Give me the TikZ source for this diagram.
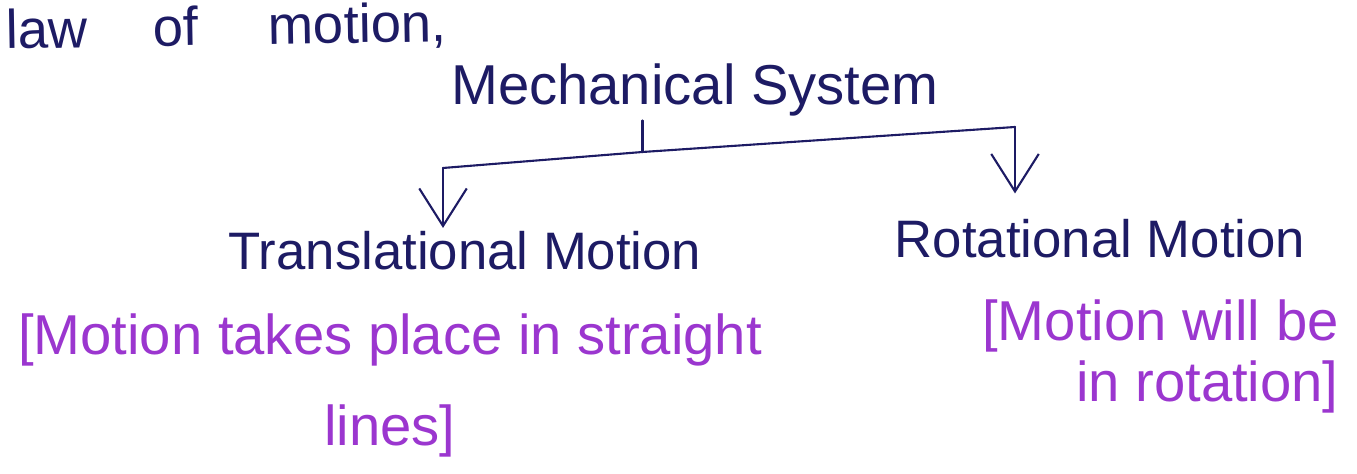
\documentclass[tikz,border=0pt]{standalone}
\usepackage{fontspec}
\setmainfont{Liberation Sans}
\definecolor{InkNavy}{HTML}{1D1B64}
\definecolor{InkPurple}{HTML}{9B36CF}
\usetikzlibrary{arrows.meta,positioning,calc}

\begin{document}
\begin{tikzpicture}[
    heading/.style={text=InkNavy,inner sep=2pt,font=\fontsize{30}{36}\selectfont},
    note/.style={text=InkPurple,inner sep=2pt,font=\fontsize{32}{52}\selectfont},
    branch/.style={draw=InkNavy,line width=1.2pt,line cap=round,line join=round},
    tip/.style={-{Straight Barb[length=0.75cm,width=0.95cm,line width=1.2pt]}}
  ]
  \useasboundingbox (0,0) rectangle (27.14,9.48);
  \clip (0,0) rectangle (27.14,9.48);

  \node[heading,anchor=base west,rotate=1,font=\fontsize{31}{36}\selectfont]
    (law) at (0.05,8.5) {law\hspace{1.3cm}of\hspace{1.4cm}motion,};

  \node[heading,anchor=base,font=\fontsize{32}{38}\selectfont]
    (sys) at (13.9,7.38) {Mechanical System};
  \node[heading,anchor=base] (trans) at (9.3,4.08) {Translational Motion};
  \node[heading,anchor=base] (rot) at (22.0,4.32) {Rotational Motion};

  \node[note,anchor=north,align=center] (transnote) at (7.8,3.28)
    {[Motion takes place in straight\\ lines]};
  \node[note,anchor=north east,align=right,font=\fontsize{32}{35}\selectfont]
    (rotnote) at (26.85,3.57) {[Motion will be\\ in rotation]};

  \coordinate (jM) at (12.85,6.44);
  \coordinate (jL) at (8.86,6.12);
  \coordinate (jR) at (20.3,6.94);

  \draw[branch] (jM |- sys.south) -- (jM);
  \draw[branch] (jL) -- (jM) -- (jR);
  \draw[branch,tip] (jL) -- (jL |- trans.north);
  \draw[branch,tip,shorten >=0.45cm] (jR) -- (jR |- rot.north);
\end{tikzpicture}
\end{document}
